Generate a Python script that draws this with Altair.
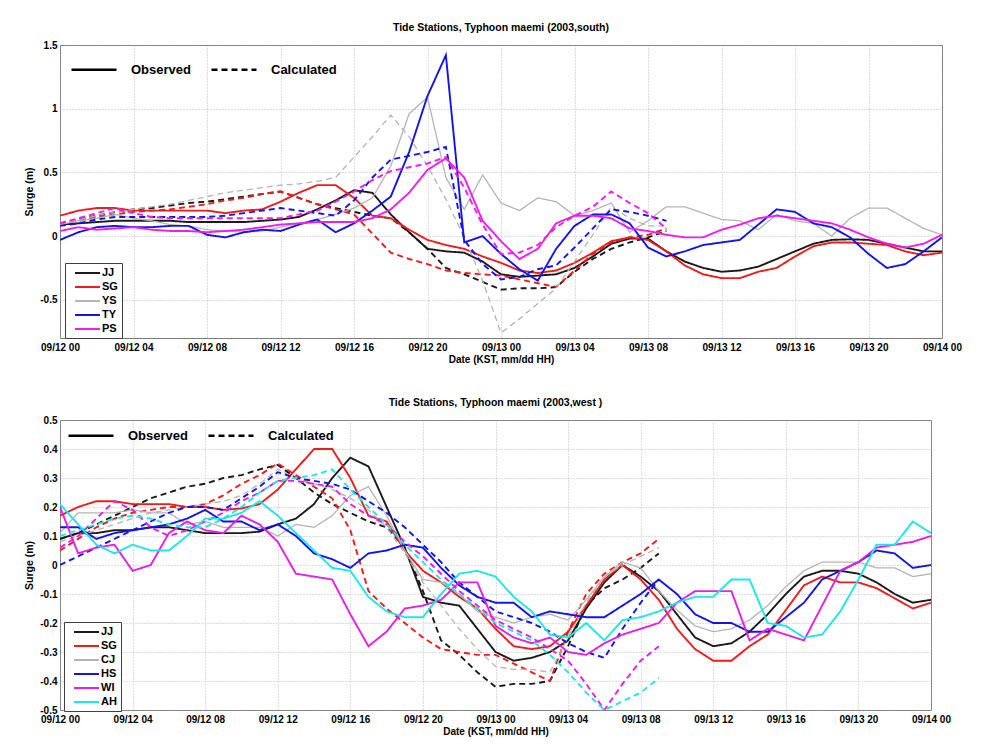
import altair as alt
import pandas as pd

# ---------------- data ----------------
HOURS_OBS = list(range(49))   # 09/12 00 .. 09/14 00, hourly
HOURS_CAL = list(range(34))   # 09/12 00 .. 09/13 09, hourly
TICK_HOURS = list(range(0, 49, 4))
TICK_LABELS = ["09/12 00", "09/12 04", "09/12 08", "09/12 12", "09/12 16", "09/12 20",
               "09/13 00", "09/13 04", "09/13 08", "09/13 12", "09/13 16", "09/13 20", "09/14 00"]
KINDS = ["Observed", "Calculated"]

SOUTH_TITLE = "Tide Stations, Typhoon maemi (2003,south)"
WEST_TITLE = "Tide Stations, Typhoon maemi (2003,west )"
X_TITLE = "Date (KST, mm/dd HH)"
Y_TITLE = "Surge (m)"

# ---- south panel ----
SOUTH_STATIONS = ["JJ", "SG", "YS", "TY", "PS"]
SOUTH_COLORS = ["#1a1a1a", "#ee1c1c", "#b4b4b4", "#1414e6", "#f01cf0"]
SOUTH_Y_TICKS = [1.5, 1, 0.5, 0, -0.5]
SOUTH_Y_DOMAIN = [-0.8, 1.5]

JJ_S_OBS = [0.09, 0.10, 0.11, 0.12, 0.12, 0.12, 0.12, 0.11, 0.11, 0.11, 0.11, 0.12, 0.13, 0.15, 0.21, 0.28,
            0.36, 0.34, 0.17, 0.03, -0.10, -0.12, -0.13, -0.20, -0.30, -0.32, -0.31, -0.30, -0.25, -0.16,
            -0.06, -0.02, -0.02, -0.12, -0.20, -0.25, -0.28, -0.27, -0.24, -0.18, -0.12, -0.06, -0.03,
            -0.025, -0.03, -0.06, -0.09, -0.12, -0.12]
SG_S_OBS = [0.16, 0.20, 0.22, 0.22, 0.20, 0.20, 0.20, 0.20, 0.20, 0.18, 0.20, 0.21, 0.27, 0.34, 0.40, 0.40,
            0.30, 0.16, 0.14, 0.05, -0.03, -0.07, -0.10, -0.16, -0.21, -0.27, -0.29, -0.27, -0.21, -0.13,
            -0.04, -0.01, -0.03, -0.12, -0.23, -0.30, -0.33, -0.33, -0.28, -0.25, -0.16, -0.08, -0.05,
            -0.05, -0.06, -0.07, -0.12, -0.15, -0.13]
YS_S_OBS = [0.09, 0.12, 0.14, 0.17, 0.14, 0.12, 0.09, 0.08, 0.05, 0.04, 0.03, 0.04, 0.07, 0.10, 0.13, 0.17,
            0.22, 0.30, 0.55, 0.96, 1.09, 0.46, 0.21, 0.48, 0.26, 0.20, 0.30, 0.27, 0.16, 0.20, 0.26, 0.03,
            0.12, 0.23, 0.23, 0.18, 0.13, 0.12, 0.05, 0.17, 0.12, 0.10, 0.00, 0.14, 0.22, 0.22, 0.14, 0.06,
            0.01]
TY_S_OBS = [-0.03, 0.03, 0.07, 0.08, 0.07, 0.07, 0.08, 0.08, 0.01, -0.01, 0.03, 0.05, 0.04, 0.09, 0.13, 0.03,
            0.10, 0.20, 0.31, 0.66, 1.10, 1.42, -0.05, 0.00, -0.14, -0.26, -0.35, -0.10, 0.08, 0.17, 0.17,
            0.10, -0.09, -0.16, -0.12, -0.07, -0.05, -0.03, 0.09, 0.21, 0.19, 0.10, 0.07, -0.01, -0.14,
            -0.25, -0.22, -0.12, -0.01]
PS_S_OBS = [0.04, 0.07, 0.05, 0.06, 0.07, 0.05, 0.04, 0.04, 0.03, 0.04, 0.05, 0.07, 0.09, 0.10, 0.11, 0.11,
            0.11, 0.14, 0.21, 0.34, 0.52, 0.61, 0.46, 0.12, -0.04, -0.18, -0.10, 0.10, 0.16, 0.16, 0.14,
            0.06, 0.04, 0.01, -0.01, -0.01, 0.05, 0.09, 0.14, 0.16, 0.14, 0.12, 0.10, 0.05, -0.01, -0.06,
            -0.09, -0.06, 0.01]

JJ_S_CAL = [0.10, 0.13, 0.16, 0.19, 0.21, 0.22, 0.24, 0.26, 0.27, 0.29, 0.31, 0.33, 0.35, 0.30, 0.25, 0.22,
            0.19, 0.16, 0.14, 0.03, -0.10, -0.25, -0.30, -0.36, -0.42, -0.41, -0.41, -0.40, -0.28, -0.18,
            -0.10, -0.05, -0.01, 0.04]
SG_S_CAL = [0.10, 0.12, 0.15, 0.17, 0.19, 0.20, 0.21, 0.23, 0.25, 0.28, 0.30, 0.33, 0.35, 0.30, 0.25, 0.21,
            0.17, 0.02, -0.13, -0.18, -0.22, -0.27, -0.29, -0.30, -0.31, -0.34, -0.37, -0.40, -0.27, -0.14,
            -0.05, -0.01, 0.01, 0.06]
YS_S_CAL = [0.10, 0.13, 0.16, 0.19, 0.21, 0.23, 0.25, 0.28, 0.31, 0.34, 0.36, 0.38, 0.40, 0.41, 0.43, 0.46,
            0.62, 0.78, 0.95, 0.78, 0.55, 0.29, -0.01, -0.35, -0.76, -0.65, -0.53, -0.41, -0.20, 0.01, 0.23,
            0.14, 0.08, 0.08]
TY_S_CAL = [0.08, 0.10, 0.13, 0.15, 0.15, 0.15, 0.15, 0.15, 0.15, 0.16, 0.18, 0.20, 0.22, 0.20, 0.18, 0.16,
            0.28, 0.46, 0.60, 0.63, 0.66, 0.70, -0.03, -0.22, -0.34, -0.32, -0.26, -0.23, -0.09, 0.06, 0.21,
            0.19, 0.16, 0.12]
PS_S_CAL = [0.10, 0.14, 0.18, 0.22, 0.18, 0.15, 0.14, 0.14, 0.14, 0.14, 0.14, 0.14, 0.14, 0.17, 0.20, 0.27,
            0.35, 0.44, 0.51, 0.54, 0.57, 0.62, 0.38, 0.09, -0.14, -0.13, -0.07, 0.07, 0.16, 0.23, 0.35,
            0.26, 0.18, 0.06]

# ---- west panel ----
WEST_STATIONS = ["JJ", "SG", "CJ", "HS", "WI", "AH"]
WEST_COLORS = ["#1a1a1a", "#ee1c1c", "#b4b4b4", "#1414e6", "#e61ee6", "#1ee6e6"]
WEST_Y_TICKS = [0.5, 0.4, 0.3, 0.2, 0.1, 0, -0.1, -0.2, -0.3, -0.4, -0.5]
WEST_Y_DOMAIN = [-0.5, 0.5]

JJ_W_OBS = [0.09, 0.11, 0.11, 0.12, 0.12, 0.13, 0.13, 0.12, 0.11, 0.11, 0.11, 0.115, 0.14, 0.16, 0.21, 0.30,
            0.37, 0.34, 0.20, 0.06, -0.11, -0.13, -0.14, -0.22, -0.30, -0.33, -0.32, -0.30, -0.26, -0.15,
            -0.06, 0.00, -0.04, -0.09, -0.17, -0.25, -0.28, -0.27, -0.23, -0.17, -0.10, -0.04, -0.02,
            -0.02, -0.03, -0.06, -0.10, -0.13, -0.12]
SG_W_OBS = [0.17, 0.20, 0.22, 0.22, 0.21, 0.21, 0.21, 0.20, 0.20, 0.19, 0.195, 0.21, 0.26, 0.33, 0.40, 0.40,
            0.30, 0.17, 0.15, 0.05, -0.02, -0.06, -0.11, -0.15, -0.22, -0.28, -0.29, -0.28, -0.23, -0.14,
            -0.05, 0.00, -0.05, -0.12, -0.22, -0.29, -0.33, -0.33, -0.28, -0.24, -0.155, -0.07, -0.04,
            -0.06, -0.06, -0.08, -0.115, -0.15, -0.13]
CJ_W_OBS = [0.11, 0.18, 0.18, 0.18, 0.19, 0.18, 0.18, 0.14, 0.15, 0.13, 0.13, 0.13, 0.10, 0.14, 0.13, 0.17,
            0.24, 0.27, 0.17, 0.05, -0.05, -0.06, -0.10, -0.16, -0.18, -0.20, -0.18, -0.17, -0.19, -0.12,
            -0.04, 0.01, -0.01, -0.09, -0.155, -0.21, -0.23, -0.22, -0.19, -0.14, -0.075, -0.02, 0.01,
            0.01, 0.01, -0.01, -0.01, -0.04, -0.03]
HS_W_OBS = [0.13, 0.13, 0.09, 0.11, 0.12, 0.13, 0.14, 0.16, 0.19, 0.15, 0.15, 0.12, 0.14, 0.10, 0.04, 0.02,
            -0.01, 0.04, 0.05, 0.07, 0.06, -0.01, -0.07, -0.11, -0.13, -0.13, -0.18, -0.16, -0.17, -0.18,
            -0.18, -0.14, -0.10, -0.05, -0.10, -0.17, -0.20, -0.20, -0.23, -0.23, -0.18, -0.13, -0.05,
            -0.02, 0.01, 0.05, 0.04, -0.01, 0.00]
WI_W_OBS = [0.20, 0.04, 0.06, 0.07, -0.02, 0.00, 0.11, 0.15, 0.12, 0.11, 0.17, 0.14, 0.08, -0.03, -0.04,
            -0.05, -0.17, -0.28, -0.23, -0.15, -0.14, -0.12, -0.06, -0.06, -0.21, -0.25, -0.27, -0.25,
            -0.30, -0.31, -0.27, -0.24, -0.22, -0.20, -0.13, -0.09, -0.09, -0.09, -0.26, -0.22, -0.24,
            -0.26, -0.14, -0.02, 0.01, 0.06, 0.07, 0.08, 0.10]
AH_W_OBS = [0.21, 0.14, 0.07, 0.04, 0.07, 0.05, 0.05, 0.10, 0.16, 0.16, 0.18, 0.22, 0.17, 0.11, 0.05, -0.01,
            -0.02, -0.11, -0.16, -0.18, -0.18, -0.10, -0.03, -0.02, -0.04, -0.11, -0.16, -0.24, -0.25,
            -0.20, -0.26, -0.19, -0.18, -0.16, -0.13, -0.11, -0.11, -0.05, -0.05, -0.20, -0.21, -0.25,
            -0.24, -0.16, -0.05, 0.07, 0.07, 0.15, 0.11]

JJ_W_CAL = [0.09, 0.11, 0.14, 0.17, 0.20, 0.23, 0.25, 0.27, 0.28, 0.30, 0.31, 0.33, 0.345, 0.30, 0.25, 0.21,
            0.18, 0.15, 0.13, 0.06, -0.09, -0.26, -0.31, -0.37, -0.42, -0.41, -0.41, -0.40, -0.28, -0.14,
            -0.08, -0.05, -0.01, 0.04]
SG_W_CAL = [0.05, 0.09, 0.13, 0.16, 0.18, 0.19, 0.20, 0.20, 0.21, 0.24, 0.28, 0.31, 0.35, 0.31, 0.27, 0.23,
            0.12, -0.09, -0.15, -0.20, -0.25, -0.29, -0.30, -0.31, -0.31, -0.34, -0.37, -0.40, -0.23, -0.10,
            -0.03, 0.01, 0.04, 0.09]
CJ_W_CAL = [0.08, 0.10, 0.12, 0.14, 0.16, 0.18, 0.19, 0.20, 0.21, 0.22, 0.24, 0.28, 0.33, 0.30, 0.28, 0.26,
            0.23, 0.19, 0.13, 0.04, -0.06, -0.14, -0.22, -0.29, -0.35, -0.36, -0.36, -0.37, -0.25, -0.13,
            -0.04, 0.00, 0.03, 0.06]
HS_W_CAL = [0.00, 0.03, 0.06, 0.09, 0.12, 0.15, 0.18, 0.20, 0.20, 0.19, 0.23, 0.27, 0.32, 0.30, 0.29, 0.28,
            0.26, 0.22, 0.18, 0.13, 0.07, 0.01, -0.06, -0.11, -0.16, -0.18, -0.20, -0.23, -0.27, -0.30,
            -0.32, -0.22, -0.13, -0.05]
WI_W_CAL = [0.06, 0.10, 0.16, 0.22, 0.19, 0.13, 0.10, 0.12, 0.15, 0.18, 0.22, 0.25, 0.29, 0.29, 0.28, 0.27,
            0.21, 0.17, 0.14, 0.08, 0.03, -0.03, -0.09, -0.14, -0.19, -0.22, -0.25, -0.29, -0.33, -0.41,
            -0.50, -0.41, -0.33, -0.28]
AH_W_CAL = [0.10, 0.12, 0.14, 0.16, 0.17, 0.16, 0.14, 0.13, 0.13, 0.16, 0.20, 0.25, 0.29, 0.30, 0.31, 0.33,
            0.26, 0.20, 0.14, 0.07, 0.01, -0.05, -0.10, -0.15, -0.20, -0.23, -0.26, -0.31, -0.37, -0.44,
            -0.50, -0.47, -0.44, -0.39]

# ---------------- helpers ----------------
FONT = "Liberation Sans"
# legend line symbols: a horizontal line starting at the symbol centre
STATION_SYMBOL = "M0,0H5"      # size 100 -> 25 px long
KIND_SYMBOL = "M0,0H9"         # size 100 -> 45 px long


def make_long(stations, obs_list, cal_list):
    rows = []
    for s, obs, cal in zip(stations, obs_list, cal_list):
        for h, v in zip(HOURS_CAL, cal):
            rows.append({"h": h, "v": v, "station": s, "kind": "Calculated"})
        for h, v in zip(HOURS_OBS, obs):
            rows.append({"h": h, "v": v, "station": s, "kind": "Observed"})
    return pd.DataFrame(rows)


X_LABEL_EXPR = "[" + ",".join("'%s'" % t for t in TICK_LABELS) + "][round(datum.value / 4)]"


def panel(df, stations, colors, title, ydomain, yticks, w, h, leg_x, leg_y, kind_x, kind_y):
    x_axis = alt.Axis(values=TICK_HOURS, labelExpr=X_LABEL_EXPR, title=X_TITLE, grid=True,
                      gridDash=[1, 2], gridColor="#a8a8a8", gridWidth=0.8, ticks=False, domain=False,
                      labelFont=FONT, labelFontSize=10, labelFontWeight="bold", labelColor="black",
                      labelPadding=4, titleFont=FONT, titleFontSize=10, titleFontWeight="bold",
                      titleColor="black", titlePadding=2, labelOverlap=False, labelFlush=False)
    y_axis = alt.Axis(values=yticks, labelExpr="'' + datum.value", title=Y_TITLE, grid=True,
                      gridDash=[1, 2], gridColor="#a8a8a8", gridWidth=0.8, ticks=False, domain=False,
                      labelFont=FONT, labelFontSize=10, labelFontWeight="bold", labelColor="black",
                      labelPadding=3, titleFont=FONT, titleFontSize=10.5, titleFontWeight="bold",
                      titleColor="black", titlePadding=5, labelOverlap=False, labelFlush=False)
    color_legend = alt.Legend(orient="none", legendX=leg_x, legendY=leg_y, title=None,
                              symbolType=STATION_SYMBOL, symbolSize=100, symbolStrokeWidth=2,
                              labelFont=FONT, labelFontSize=11, labelFontWeight="bold",
                              labelColor="black", labelOffset=21, strokeColor="#404040",
                              fillColor="white", padding=4, rowPadding=3)
    dash_legend = alt.Legend(orient="none", legendX=kind_x, legendY=kind_y, title=None,
                             direction="horizontal", symbolType=KIND_SYMBOL, symbolSize=100,
                             symbolStrokeWidth=2.5, symbolStrokeColor="black",
                             labelFont=FONT, labelFontSize=13, labelFontWeight="bold",
                             labelColor="black", labelOffset=53, columnPadding=14, padding=0)
    return alt.Chart(df).mark_line(clip=True).encode(
        x=alt.X("h:Q", scale=alt.Scale(domain=[0, 48], nice=False, zero=False), axis=x_axis),
        y=alt.Y("v:Q", scale=alt.Scale(domain=ydomain, nice=False, zero=False), axis=y_axis),
        color=alt.Color("station:N", scale=alt.Scale(domain=stations, range=colors),
                        legend=color_legend),
        strokeDash=alt.StrokeDash("kind:N", scale=alt.Scale(domain=KINDS, range=[[1, 0], [6, 4]]),
                                  legend=dash_legend),
        strokeWidth=alt.condition("datum.station === 'YS' || datum.station === 'CJ'",
                                  alt.value(1.3), alt.value(1.9)),
    ).properties(
        width=w, height=h,
        title=alt.TitleParams(title, font=FONT, fontSize=10.5, fontWeight="bold", color="black",
                              offset=7),
    )


south_df = make_long(SOUTH_STATIONS,
                     [JJ_S_OBS, SG_S_OBS, YS_S_OBS, TY_S_OBS, PS_S_OBS],
                     [JJ_S_CAL, SG_S_CAL, YS_S_CAL, TY_S_CAL, PS_S_CAL])
west_df = make_long(WEST_STATIONS,
                    [JJ_W_OBS, SG_W_OBS, CJ_W_OBS, HS_W_OBS, WI_W_OBS, AH_W_OBS],
                    [JJ_W_CAL, SG_W_CAL, CJ_W_CAL, HS_W_CAL, WI_W_CAL, AH_W_CAL])

top = panel(south_df, SOUTH_STATIONS, SOUTH_COLORS, SOUTH_TITLE, SOUTH_Y_DOMAIN, SOUTH_Y_TICKS,
            882, 293, 5, 218, 5, 18)
bottom = panel(west_df, WEST_STATIONS, WEST_COLORS, WEST_TITLE, WEST_Y_DOMAIN, WEST_Y_TICKS,
               871, 290, 4, 202, 2, 9)

chart = alt.vconcat(top, bottom, spacing=32).resolve_scale(
    color="independent", strokeDash="independent"
).resolve_legend(
    color="independent", strokeDash="independent"
).properties(
    padding={"left": 16, "top": 14, "right": 5, "bottom": 5},
    background="white",
).configure_view(stroke="#7a7a7a", strokeWidth=1)

chart.save("out.html", embed_options={"renderer": "svg", "actions": False})
